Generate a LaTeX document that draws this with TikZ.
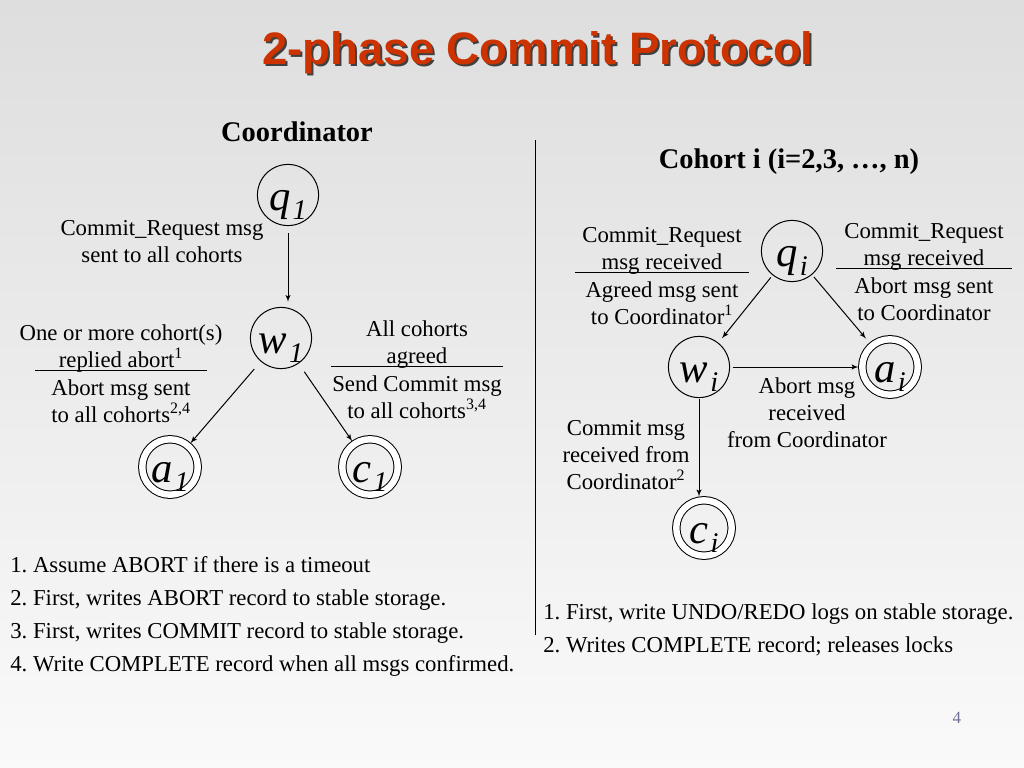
\documentclass[tikz,border=0pt]{standalone}
\usepackage{fontspec}
\setmainfont{Liberation Serif}
\newfontfamily\titlefont{Liberation Sans}
\usetikzlibrary{automata, positioning, arrows}
\definecolor{titlered}{RGB}{204,51,0}
\definecolor{pagegray}{RGB}{110,110,150}
\frenchspacing
\newcommand{\stname}[2]{#1\kern1.5pt\raisebox{-6pt}[0pt][0pt]{\fontsize{20}{20}\selectfont #2}}
\tikzset{>=latex',
         every state/.style={draw, line width=0.7pt, minimum size=43pt, inner sep=0pt,
                             text height=22pt, text depth=0pt,
                             font=\fontsize{30}{30}\selectfont\itshape},
         accepting by double/.append style={minimum size=39pt, double distance=4.5pt},
         every edge/.style={draw, ->, line width=0.7pt, shorten <=2pt, shorten >=2pt},
         titletext/.style={anchor=base, font=\titlefont\bfseries\fontsize{32}{38}\selectfont},
         head/.style={anchor=base, font=\bfseries\fontsize{20}{24}\selectfont},
         lbl/.style={align=center, inner sep=0pt, font=\fontsize{16}{19}\selectfont},
         notes/.style={align=left, inner sep=0pt, anchor=north west, font=\fontsize{16}{23.2}\selectfont},
         rulebar/.style={fill=black, inner sep=0pt, minimum height=0.7pt, minimum width=#1},
         }

\begin{document}
\begin{tikzpicture}[x=0.703125pt, y=-0.703125pt]
    \shade[top color=black!13, bottom color=black!2] (0,0) rectangle (1024,768);
    \useasboundingbox (0,0) rectangle (1024,768);

    \node[titletext, text=black!75] (tshadow) at (540,67) {2-phase Commit Protocol};
    \node[titletext, text=titlered] (title) at (538,65) {2-phase Commit Protocol};

    \node[head] (coord) at (297,142) {Coordinator};
    \node[head] (cohort) at (789,169) {Cohort i (i=2,3, …, n)};

    % divider
    \coordinate (divtop) at (535,140);
    \coordinate (divbot) at (535,635);
    \draw[line width=0.7pt] (divtop) -- (divbot);

    % coordinator
    \node[state] (q1) at (288,195) {\stname{q}{1}};
    \node[state] (w1) at (281,338) {\stname{w}{1}};
    \node[state, accepting] (a1) at (170,467) {\stname{a}{1}};
    \node[state, accepting] (c1) at (370,467) {\stname{c}{1}};

    \draw   (q1) edge[shorten <=5pt, shorten >=3.5pt] (q1 |- w1.north)
            (w1) edge[shorten <=7pt] (a1)
            (w1) edge[shorten <=7pt] (c1);

    \node[lbl] (req) at (162,242) {Commit\_Request msg\\sent to all cohorts};
    \node[rulebar=121pt] (r1) at (121,370) {};
    \node[lbl, above=-2.5pt of r1] (abt) {One or more cohort(s)\\replied abort\textsuperscript{1}};
    \node[lbl, below=6pt of r1] (abs) {Abort msg sent\\to all cohorts\textsuperscript{2,4}};
    \node[rulebar=121pt] (r2) at (417,366) {};
    \node[lbl, above=-2.5pt of r2] (agr) {All cohorts\\agreed};
    \node[lbl, below=6pt of r2] (snd) {Send Commit msg\\to all cohorts\textsuperscript{3,4}};

    % cohort
    \node[state] (qi) at (792,251) {\stname{q}{i}};
    \node[state] (wi) at (699,367) {\stname{w}{i}};
    \node[state, accepting] (ai) at (890,367) {\stname{a}{i}};
    \node[state, accepting] (ci) at (704,528) {\stname{c}{i}};

    \draw   (qi) edge[shorten >=4pt] (wi)
            (qi) edge[shorten >=6pt] (ai)
            (wi) edge (ai)
            (wi) edge[shorten <=1pt] (wi |- ci.north);

    \node[rulebar=123pt] (r3) at (662,272) {};
    \node[lbl, above=-2.5pt of r3] (crq) {Commit\_Request\\msg received};
    \node[lbl, below=6pt of r3] (agd) {Agreed msg sent\\to Coordinator\textsuperscript{1}};
    \node[rulebar=124pt] (r4) at (924,268) {};
    \node[lbl, above=-2.5pt of r4] (crr) {Commit\_Request\\msg received};
    \node[lbl, below=6pt of r4] (abc) {Abort msg sent\\to Coordinator};
    \node[lbl] (abr) at (807,413) {Abort msg\\received\\from Coordinator};
    \node[lbl] (cmr) at (626,455) {Commit msg\\received from\\Coordinator\textsuperscript{2}};

    % footnotes
    \node[notes] (cnotes) at (10,556) {1. Assume ABORT if there is a timeout\\
        2. First, writes ABORT record to stable storage.\\
        3. First, writes COMMIT record to stable storage.\\
        4. Write COMPLETE record when all msgs confirmed.};
    \node[notes] (hnotes) at (543,603) {1. First, write UNDO/REDO logs on stable storage.\\
        2. Writes COMPLETE record; releases locks};

    \node[anchor=base, text=pagegray, font=\fontsize{12}{14}\selectfont] (pgno) at (957,723) {4};
\end{tikzpicture}
\end{document}
